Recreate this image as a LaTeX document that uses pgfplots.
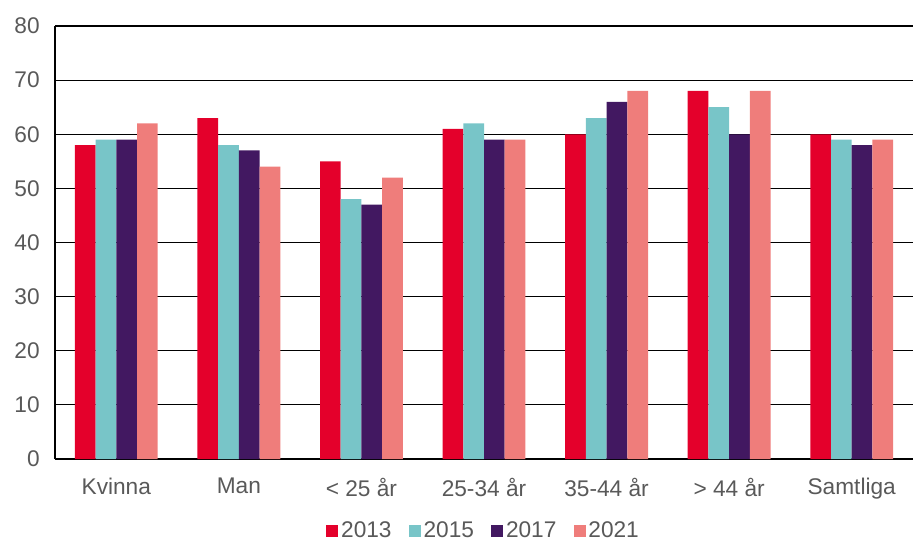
\documentclass[border=0pt]{standalone}
\usepackage{pgfplots}
\pgfplotsset{compat=1.18}
\usepackage{fontspec}
\setmainfont{Liberation Sans}
\definecolor{cRed}{HTML}{E4002B}
\definecolor{cTeal}{HTML}{78C5C8}
\definecolor{cPurple}{HTML}{421861}
\definecolor{cSalmon}{HTML}{EF7D7B}
\definecolor{tgray}{HTML}{595959}
\begin{document}
\begin{tikzpicture}
\begin{axis}[
  scale only axis,
  width=643.5pt, height=324.75pt,
  ybar=0pt, bar width=0.169,
  xmin=-0.5, xmax=6.5, ymin=0, ymax=80,
  xtick=data,
  xticklabels={Kvinna,Man,{< 25 år},{25-34 år},{35-44 år},{> 44 år},Samtliga},
  ytick={0,10,...,80},
  axis lines=left,
  axis line style={-, black, line width=0.9pt},
  ymajorgrids, grid style={black, line width=0.9pt},
  major tick length=0pt,
  /pgf/number format/assume math mode=true,
  tick label style={font=\fontsize{17}{20}\selectfont, text=tgray},
  yticklabel style={xshift=-8pt},
  xticklabel style={yshift=-11pt},
  legend columns=4,
  legend style={at={(axis description cs:0.5,0)}, anchor=center, yshift=-54pt,
    draw=none, font=\fontsize{17}{20}\selectfont, text=tgray,
    /tikz/every even column/.append style={column sep=11pt}},
  legend image code/.code={\fill[#1] (0pt,-4.5pt) rectangle (9pt,4.5pt);},
  clip=false,
]
\addplot[fill=cRed, draw=none] coordinates {(0,58) (1,63) (2,55) (3,61) (4,60) (5,68) (6,60)};
\addplot[fill=cTeal, draw=none] coordinates {(0,59) (1,58) (2,48) (3,62) (4,63) (5,65) (6,59)};
\addplot[fill=cPurple, draw=none] coordinates {(0,59) (1,57) (2,47) (3,59) (4,66) (5,60) (6,58)};
\addplot[fill=cSalmon, draw=none] coordinates {(0,62) (1,54) (2,52) (3,59) (4,68) (5,68) (6,59)};
\legend{2013,2015,2017,2021}
\end{axis}
\pgfresetboundingbox
\path (-41.25pt,-63.75pt) rectangle (643.5pt,344.25pt);
\end{tikzpicture}
\end{document}
